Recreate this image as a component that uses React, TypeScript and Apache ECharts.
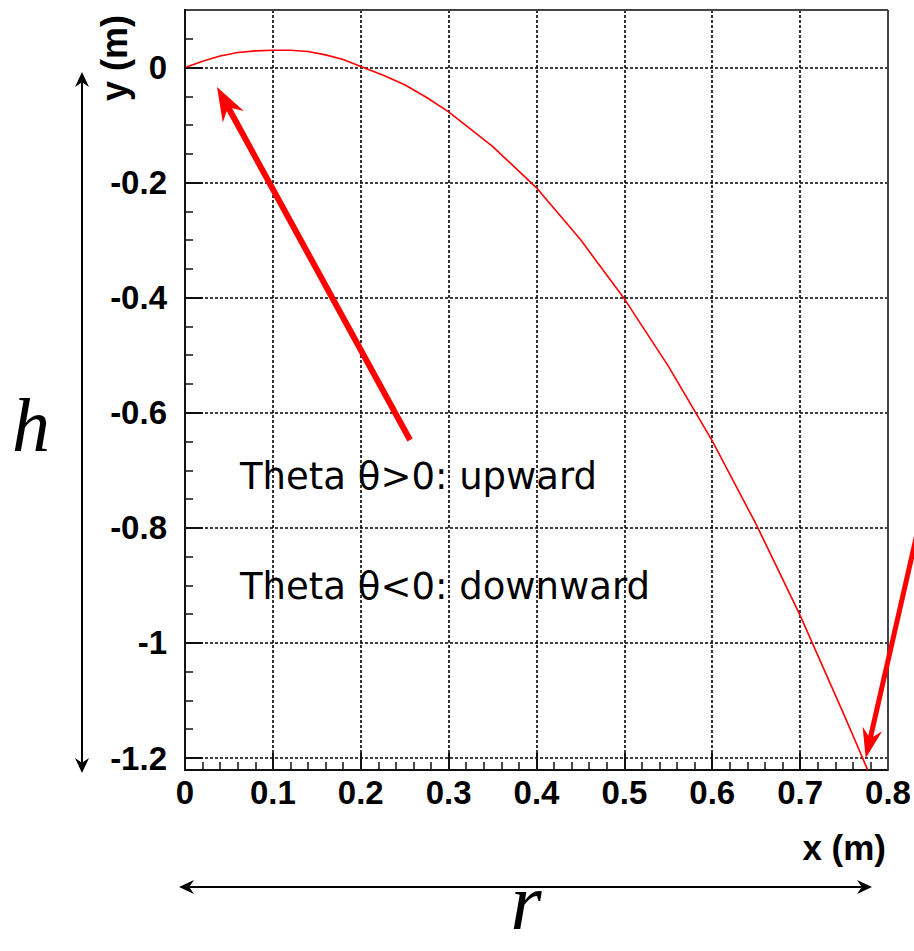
import React, { useEffect, useRef } from "react";
import * as echarts from "echarts";

// Trajectory
const X_M = [0, 0.02, 0.04, 0.06, 0.08, 0.1, 0.12, 0.14, 0.16, 0.18, 0.2, 0.225, 0.25, 0.275, 0.3, 0.35, 0.4, 0.45, 0.5, 0.55, 0.6, 0.65, 0.7, 0.75, 0.777];
const Y_M = [0, 0.011, 0.02, 0.026, 0.029, 0.03, 0.03, 0.028, 0.022, 0.014, 0.002, -0.013, -0.03, -0.052, -0.077, -0.137, -0.209, -0.299, -0.402, -0.519, -0.649, -0.794, -0.952, -1.125, -1.221];

const X_MIN = 0;
const X_MAX = 0.8;
const X_STEP = 0.1;
const Y_MIN = -1.2;
const Y_MAX = 0.1;
const Y_STEP = 0.2;
const Y_MINOR_STEP = 0.05;

const X_TITLE = "x (m)";
const Y_TITLE = "y (m)";
const NOTES = ["Theta θ>0: upward", "Theta θ<0: downward"];
const H_LABEL = "h";
const R_LABEL = "r";

const W = 914;
const H = 951;
const PLOT_L = 185;
const PLOT_T = 10;
const PLOT_R = 888;
const GRID_B = 758;
const PLOT_B = 770;

type P = [number, number];

function arrowHead(tip: P, ux: number, uy: number, L: number, hw: number, color: string) {
  const px = -uy, py = ux;
  const bx = tip[0] - ux * L, by = tip[1] - uy * L;
  const nx = tip[0] - ux * L * 0.68, ny = tip[1] - uy * L * 0.68;
  return {
    notch: [nx, ny] as P,
    el: {
      type: "polygon",
      z: 100,
      shape: { points: [tip, [bx + px * hw, by + py * hw], [nx, ny], [bx - px * hw, by - py * hw]] },
      style: { fill: color },
    },
  };
}

function arrow(tail: P, tip: P, lw: number, L: number, hw: number, color: string, both = false) {
  const dx = tip[0] - tail[0], dy = tip[1] - tail[1];
  const len = Math.hypot(dx, dy);
  const ux = dx / len, uy = dy / len;
  const h1 = arrowHead(tip, ux, uy, L, hw, color);
  let start = tail;
  const els: any[] = [h1.el];
  if (both) {
    const h2 = arrowHead(tail, -ux, -uy, L, hw, color);
    start = h2.notch;
    els.push(h2.el);
  }
  els.unshift({
    type: "line",
    z: 99,
    shape: { x1: start[0], y1: start[1], x2: h1.notch[0], y2: h1.notch[1] },
    style: { stroke: color, lineWidth: lw },
  });
  return els;
}

const fmtX = (v: number) => {
  const r = Math.round(v * 10) / 10;
  return String(r === 0 ? 0 : r);
};
const fmtY = (v: number) => {
  const k = Math.round(v / Y_STEP);
  if (Math.abs(v - k * Y_STEP) > 1e-6) return "";
  const r = Math.round(v * 10) / 10;
  return String(r === 0 ? 0 : r);
};

export default function App() {
  const ref = useRef<HTMLDivElement>(null);
  useEffect(() => {
    if (!ref.current) return;
    const chart = echarts.init(ref.current, undefined, { renderer: "svg" });
    const labelFont = { fontFamily: "Liberation Sans", fontWeight: "bold" as const, fontSize: 33, color: "#000" };
    const dotted = { color: "#000", width: 1.6, type: [3, 2] as any };

    const graphic: any[] = [
      // frame
      { type: "line", z: 90, shape: { x1: PLOT_L, y1: PLOT_T, x2: PLOT_R, y2: PLOT_T }, style: { stroke: "#444", lineWidth: 2 } },
      { type: "line", z: 90, shape: { x1: PLOT_R, y1: PLOT_T, x2: PLOT_R, y2: PLOT_B }, style: { stroke: "#444", lineWidth: 2 } },
      { type: "line", z: 90, shape: { x1: PLOT_L, y1: PLOT_T - 1, x2: PLOT_L, y2: PLOT_B + 1 }, style: { stroke: "#111", lineWidth: 2 } },
      // titles
      {
        type: "text", z: 100, x: 114, y: 58, rotation: Math.PI / 2,
        style: { text: Y_TITLE, align: "center", verticalAlign: "middle", ...labelFont, fill: "#000", fontSize: 36 },
      },
      {
        type: "text", z: 100, x: 886, y: 847,
        style: { text: X_TITLE, align: "right", verticalAlign: "middle", ...labelFont, fill: "#000", fontSize: 35 },
      },
      {
        type: "text", z: 100, x: 240, y: 476,
        style: { text: NOTES[0], align: "left", verticalAlign: "middle", fontFamily: "DejaVu Sans", fontSize: 37, fill: "#000" },
      },
      {
        type: "text", z: 100, x: 240, y: 586,
        style: { text: NOTES[1], align: "left", verticalAlign: "middle", fontFamily: "DejaVu Sans", fontSize: 37, fill: "#000" },
      },
      {
        type: "text", z: 100, x: 31, y: 425,
        style: { text: H_LABEL, align: "center", verticalAlign: "middle", fontFamily: "Liberation Serif", fontStyle: "italic", fontSize: 76, fill: "#000" },
      },
      {
        type: "text", z: 100, x: 526, y: 902,
        style: { text: R_LABEL, align: "center", verticalAlign: "middle", fontFamily: "Liberation Serif", fontStyle: "italic", fontSize: 80, fill: "#000" },
      },
      ...arrow([82, 773], [82, 72], 2, 15, 7, "#000", true),
      ...arrow([179, 887], [872, 887], 2, 15, 7, "#000", true),
      ...arrow([410, 440], [217, 87], 6, 34, 12, "#ff0000"),
      ...arrow([921.4, 514.6], [865.7, 758.3], 5, 30, 10, "#ff0000"),
    ];

    chart.setOption({
      animation: false,
      backgroundColor: "#fff",
      grid: { left: PLOT_L, top: PLOT_T, right: W - PLOT_R, bottom: H - GRID_B, containLabel: false },
      xAxis: [
        {
          type: "value",
          min: X_MIN,
          max: X_MAX,
          interval: X_STEP,
          position: "bottom",
          offset: PLOT_B - GRID_B,
          axisLine: { show: true, onZero: false, lineStyle: { color: "#111", width: 2 } },
          axisTick: { show: true, inside: true, length: 17, lineStyle: { color: "#111", width: 2 } },
          minorTick: { show: true, splitNumber: 5, length: 8, lineStyle: { color: "#111", width: 1.5 } },
          axisLabel: { ...labelFont, margin: 6, formatter: fmtX },
          splitLine: { show: true, lineStyle: dotted },
        },
      ],
      yAxis: [
        {
          type: "value",
          min: Y_MIN,
          max: Y_MAX,
          interval: Y_STEP,
          position: "left",
          axisLine: { show: false, onZero: false },
          axisTick: { show: true, inside: true, length: 18, lineStyle: { color: "#111", width: 2 } },
          axisLabel: { ...labelFont, margin: 18, formatter: fmtY, showMaxLabel: false },
          splitLine: { show: true, lineStyle: dotted },
        },
        {
          type: "value",
          min: Y_MIN,
          max: Y_MAX,
          interval: Y_MINOR_STEP,
          position: "left",
          axisLine: { show: false, onZero: false },
          axisTick: { show: true, inside: true, length: 8, lineStyle: { color: "#111", width: 1.5 } },
          axisLabel: { show: false },
          splitLine: { show: false },
        },
      ],
      series: [
        {
          type: "line",
          xAxisIndex: 0,
          yAxisIndex: 0,
          data: X_M.map((x, i) => [x, Y_M[i]]),
          showSymbol: false,
          smooth: false,
          clip: false,
          lineStyle: { color: "#ff0000", width: 1.6 },
          z: 5,
        },
      ],
      graphic,
    });
    return () => chart.dispose();
  }, []);
  return <div ref={ref} style={{ position: "fixed", left: 0, top: 0, width: W, height: H, background: "#fff" }} />;
}
